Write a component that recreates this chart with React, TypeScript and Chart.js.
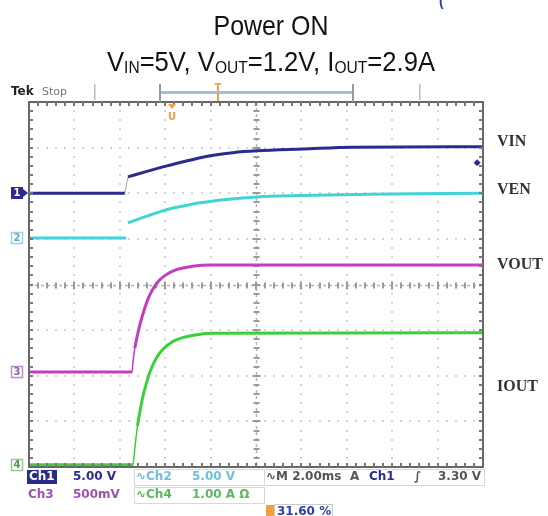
import React, { useEffect, useRef } from "react";
import { Chart, registerables } from "chart.js";
Chart.register(...registerables);

const W = 548;
const H = 516;

// Time in divisions (M 2.00 ms/div, 10 div), level in divisions (8 div, bottom = 0)
// null marks the step where the scope trace jumps (drawn as a faint connector)
const vinT = [0, 2.11, 2.15, 2.18, 2.6, 3.04, 3.4, 3.77, 4.1, 4.49, 5.02, 6.04, 7.14, 10];
const vinV = [6.0, 6.0, null, 6.36, 6.48, 6.6, 6.69, 6.78, 6.84, 6.89, 6.93, 6.97, 7.01, 7.02];
const venT = [0, 2.14, 2.16, 2.18, 2.6, 3.0, 3.4, 3.77, 4.4, 5.02, 6.0, 7.5, 10];
const venV = [5.02, 5.02, null, 5.35, 5.5, 5.63, 5.72, 5.79, 5.87, 5.92, 5.95, 5.98, 6.0];
const voutT = [0, 2.27, 2.29, 2.33, 2.38, 2.45, 2.53, 2.62, 2.73, 2.86, 3.0, 3.26, 3.6, 4.0, 10];
const voutV = [2.08, 2.08, 2.3, 2.6, 2.85, 3.15, 3.42, 3.68, 3.9, 4.08, 4.2, 4.33, 4.4, 4.43, 4.43];
const ioutT = [0, 2.29, 2.33, 2.39, 2.45, 2.51, 2.59, 2.67, 2.8, 2.95, 3.15, 3.33, 3.7, 4.05, 10];
const ioutV = [0.05, 0.05, 0.4, 0.9, 1.25, 1.55, 1.85, 2.1, 2.38, 2.58, 2.74, 2.82, 2.9, 2.93, 2.94];
const trigT = [9.87];
const trigV = [6.67];

const channelNames = ["VIN", "VEN", "VOUT", "IOUT"];
const channelColors = ["#2b2b8e", "#3fd4d8", "#c23cc4", "#3ccf3c"];

const pts = (t: number[], v: (number | null)[]) => t.map((x, i) => ({ x, y: v[i] }));
const stepOf = (t: number[], v: (number | null)[]) => {
  const g = v.indexOf(null);
  return [
    { x: t[g - 1], y: v[g - 1] },
    { x: t[g + 1], y: v[g + 1] },
  ];
};

function drawRich(ctx: CanvasRenderingContext2D, parts: { t: string; sub?: boolean }[], cx: number, base: number, size: number, target: number) {
  const big = `${size}px "Liberation Sans", Arial, sans-serif`;
  const small = `${Math.round(size * 0.62)}px "Liberation Sans", Arial, sans-serif`;
  let total = 0;
  const ws = parts.map((p) => {
    ctx.font = p.sub ? small : big;
    const w = ctx.measureText(p.t).width;
    total += w;
    return w;
  });
  const s = target / total;
  ctx.save();
  ctx.translate(cx - target / 2, base);
  ctx.scale(s, 1);
  let x = 0;
  ctx.textBaseline = "alphabetic";
  ctx.textAlign = "left";
  parts.forEach((p, i) => {
    ctx.font = p.sub ? small : big;
    ctx.fillText(p.t, x, p.sub ? 2 : 0);
    x += ws[i];
  });
  ctx.restore();
}

const oscPlugin = {
  id: "osc",
  beforeDatasetsDraw(chart: any) {
    const { ctx, chartArea: a, scales } = chart;
    const x = scales.x;
    const y = scales.y;
    ctx.save();
    ctx.fillStyle = "#d4d4d4";
    for (let i = 1; i < 10; i++) {
      if (i === 5) continue;
      const px = Math.round(x.getPixelForValue(i));
      for (let k = 1; k < 40; k++) {
        const py = Math.round(y.getPixelForValue(k / 5));
        ctx.fillRect(px - 1, py - 1, 2, 2);
      }
    }
    for (let j = 1; j < 8; j++) {
      if (j === 4) continue;
      const py = Math.round(y.getPixelForValue(j));
      for (let k = 1; k < 50; k++) {
        const px = Math.round(x.getPixelForValue(k / 5));
        ctx.fillRect(px - 1, py - 1, 2, 2);
      }
    }
    const cy = Math.round(y.getPixelForValue(4)) + 0.5;
    const cx = Math.round(x.getPixelForValue(5)) + 0.5;
    ctx.strokeStyle = "#b4b4b4";
    ctx.lineWidth = 1.5;
    ctx.setLineDash([3, 3]);
    ctx.beginPath();
    ctx.moveTo(a.left, cy);
    ctx.lineTo(a.right, cy);
    ctx.moveTo(cx, a.top);
    ctx.lineTo(cx, a.bottom);
    ctx.stroke();
    ctx.setLineDash([]);
    ctx.fillStyle = "#9a9a9a";
    for (let k = 1; k < 50; k++) {
      const px = Math.round(x.getPixelForValue(k / 5));
      const L = k % 5 === 0 ? 4 : 3;
      ctx.fillRect(px - 1, cy - L, 2, 2 * L);
    }
    for (let k = 1; k < 40; k++) {
      const py = Math.round(y.getPixelForValue(k / 5));
      const L = k % 5 === 0 ? 4 : 3;
      ctx.fillRect(cx - L, py - 1, 2 * L, 2);
    }
    ctx.restore();
  },
  afterDatasetsDraw(chart: any) {
    const { ctx, chartArea: a, scales } = chart;
    const x = scales.x;
    const y = scales.y;
    ctx.save();
    ctx.strokeStyle = "#666";
    ctx.lineWidth = 2;
    ctx.strokeRect(a.left, a.top, a.right - a.left, a.bottom - a.top);
    ctx.fillStyle = "#777";
    for (let k = 1; k < 50; k++) {
      const px = Math.round(x.getPixelForValue(k / 5));
      ctx.fillRect(px - 1, a.top, 2, 4);
      ctx.fillRect(px - 1, a.bottom - 4, 2, 4);
    }
    for (let k = 1; k < 40; k++) {
      const py = Math.round(y.getPixelForValue(k / 5));
      ctx.fillRect(a.left, py - 1, 4, 2);
      ctx.fillRect(a.right - 4, py - 1, 4, 2);
    }

    const levels = [vinV[0] as number, venV[0] as number, voutV[0], ioutV[0]];
    levels.forEach((lv, i) => {
      const py = Math.round(y.getPixelForValue(lv));
      const col = channelColors[i];
      const bx = 11;
      ctx.lineWidth = 1.5;
      if (i === 0) {
        ctx.fillStyle = col;
        ctx.fillRect(bx, py - 6, 12, 12);
        ctx.beginPath();
        ctx.moveTo(23, py - 4);
        ctx.lineTo(28, py);
        ctx.lineTo(23, py + 4);
        ctx.fill();
        ctx.fillStyle = "#fff";
      } else {
        ctx.fillStyle = "rgba(255,255,255,0.9)";
        ctx.fillRect(bx, py - 6, 12, 12);
        ctx.strokeStyle = i === 1 ? "#9ccfe0" : i === 2 ? "#b98ec8" : "#8fc98f";
        ctx.strokeRect(bx + 0.5, py - 5.5, 11, 11);
        ctx.fillStyle = i === 1 ? "#5aaac8" : i === 2 ? "#8a5ca0" : "#4f9a4f";
      }
      ctx.font = "bold 10px 'DejaVu Sans', sans-serif";
      ctx.textAlign = "center";
      ctx.textBaseline = "middle";
      ctx.fillText(String(i + 1), bx + 6, py + 0.5);
    });

    ctx.fillStyle = "#333";
    ctx.font = "bold 16px 'Liberation Serif', serif";
    ctx.textAlign = "left";
    ctx.textBaseline = "middle";
    const labY = [142, 190, 265, 387];
    channelNames.forEach((n, i) => ctx.fillText(n, 497, labY[i]));

    ctx.fillStyle = "#111";
    drawRich(ctx, [{ t: "Power ON" }], 271, 35, 28, 115);
    drawRich(
      ctx,
      [
        { t: "V" }, { t: "IN", sub: true }, { t: "=5V, V" }, { t: "OUT", sub: true },
        { t: "=1.2V, I" }, { t: "OUT", sub: true }, { t: "=2.9A" },
      ],
      271, 71, 28, 328
    );
    ctx.fillStyle = "#2b3fa8";
    ctx.font = "bold 14px 'Liberation Sans', sans-serif";
    ctx.textAlign = "left";
    ctx.textBaseline = "alphabetic";
    ctx.fillText("(", 439, 6);

    ctx.textBaseline = "middle";
    ctx.font = "bold 12px 'DejaVu Sans', sans-serif";
    ctx.fillStyle = "#222";
    ctx.fillText("Tek", 11, 92);
    ctx.fillStyle = "#777";
    ctx.font = "11px 'DejaVu Sans', sans-serif";
    ctx.fillText("Stop", 42, 92);
    ctx.fillStyle = "#bbb";
    ctx.fillRect(94, 84, 1.5, 16);
    ctx.fillRect(419, 84, 1.5, 16);
    ctx.fillStyle = "#a9bfcf";
    ctx.fillRect(160, 91, 193, 3);
    ctx.fillStyle = "#999";
    ctx.fillRect(159, 84, 2, 18);
    ctx.fillRect(352, 84, 2, 18);
    ctx.fillStyle = "#f0a040";
    ctx.font = "bold 10px 'DejaVu Sans', sans-serif";
    ctx.textAlign = "center";
    ctx.fillText("T", 218, 88);
    ctx.fillRect(217, 93, 2, 8);
    ctx.fillText("U", 172, 117);
    ctx.beginPath();
    ctx.moveTo(168, 104);
    ctx.lineTo(176, 104);
    ctx.lineTo(172, 109);
    ctx.fill();

    ctx.textAlign = "left";
    ctx.font = "bold 12px 'DejaVu Sans', sans-serif";
    ctx.strokeStyle = "#d8d8d8";
    ctx.lineWidth = 1;
    ctx.strokeRect(134.5, 469.5, 130, 16);
    ctx.strokeRect(134.5, 487.5, 130, 16);
    ctx.strokeRect(264.5, 469.5, 220, 16);
    ctx.fillStyle = channelColors[0];
    ctx.fillRect(27, 470, 30, 14);
    ctx.fillStyle = "#fff";
    ctx.fillText("Ch1", 29, 477);
    ctx.fillStyle = channelColors[0];
    ctx.fillText("5.00 V", 73, 477);
    ctx.fillStyle = "#6cc0d8";
    ctx.fillText("\u223FCh2", 136, 477);
    ctx.fillText("5.00 V", 192, 477);
    ctx.fillStyle = "#555";
    ctx.fillText("\u223FM 2.00ms", 266, 477);
    ctx.fillText("A", 350, 477);
    ctx.fillStyle = channelColors[0];
    ctx.fillText("Ch1", 369, 477);
    ctx.fillStyle = "#555";
    ctx.fillText("\u222B", 414, 477);
    ctx.fillText("3.30 V", 438, 477);
    ctx.fillStyle = "#a050b0";
    ctx.fillText("Ch3", 28, 495);
    ctx.fillText("500mV", 73, 495);
    ctx.fillStyle = "#5cb85c";
    ctx.fillText("\u223FCh4", 136, 495);
    ctx.fillText("1.00 A \u03A9", 192, 495);
    ctx.fillStyle = "#f0a040";
    ctx.fillRect(266, 505, 8, 12);
    ctx.strokeStyle = "#ccc";
    ctx.strokeRect(274.5, 504.5, 58, 14);
    ctx.fillStyle = "#2b3fa8";
    ctx.fillText("31.60 %", 277, 512);
    ctx.restore();
  },
};

export default function App() {
  const ref = useRef<HTMLCanvasElement | null>(null);
  useEffect(() => {
    if (!ref.current) return;
    const thin = (idx: number[], w: number) => (c: any) => (idx.includes(c.p1DataIndex) ? w : undefined);
    const chart = new Chart(ref.current, {
      type: "line",
      data: {
        datasets: [
          {
            label: "VIN step",
            data: stepOf(vinT, vinV),
            borderColor: "rgba(43,43,142,0.45)",
            borderWidth: 1,
          },
          {
            label: "VIN",
            data: pts(vinT, vinV),
            borderColor: channelColors[0],
            borderWidth: 3,
            spanGaps: false,
            cubicInterpolationMode: "monotone",
          },
          {
            label: "VEN",
            data: pts(venT, venV),
            borderColor: channelColors[1],
            borderWidth: 3,
            spanGaps: false,
            cubicInterpolationMode: "monotone",
          },
          {
            label: "VOUT",
            data: pts(voutT, voutV),
            borderColor: channelColors[2],
            borderWidth: 3,
            cubicInterpolationMode: "monotone",
            segment: { borderWidth: thin([2, 3], 1.5) },
          },
          {
            label: "IOUT",
            data: pts(ioutT, ioutV),
            borderColor: channelColors[3],
            borderWidth: 3,
            cubicInterpolationMode: "monotone",
            segment: { borderWidth: thin([2, 3], 1.5) },
          },
          {
            label: "trig",
            data: pts(trigT, trigV),
            showLine: false,
            pointRadius: 3,
            pointStyle: "rectRot",
            backgroundColor: channelColors[0],
            borderColor: channelColors[0],
          },
        ],
      },
      options: {
        responsive: false,
        animation: false,
        layout: { padding: { left: 29, top: 102, right: 65, bottom: 49 } },
        elements: { point: { radius: 0 } },
        scales: {
          x: { type: "linear", min: 0, max: 10, display: false },
          y: { type: "linear", min: 0, max: 8, display: false },
        },
        plugins: { legend: { display: false }, tooltip: { enabled: false } },
      },
      plugins: [oscPlugin],
    } as any);
    return () => chart.destroy();
  }, []);
  return (
    <div style={{ position: "absolute", left: 0, top: 0, width: W, height: H, background: "#fff" }}>
      <canvas ref={ref} width={W} height={H} style={{ display: "block" }} />
    </div>
  );
}
